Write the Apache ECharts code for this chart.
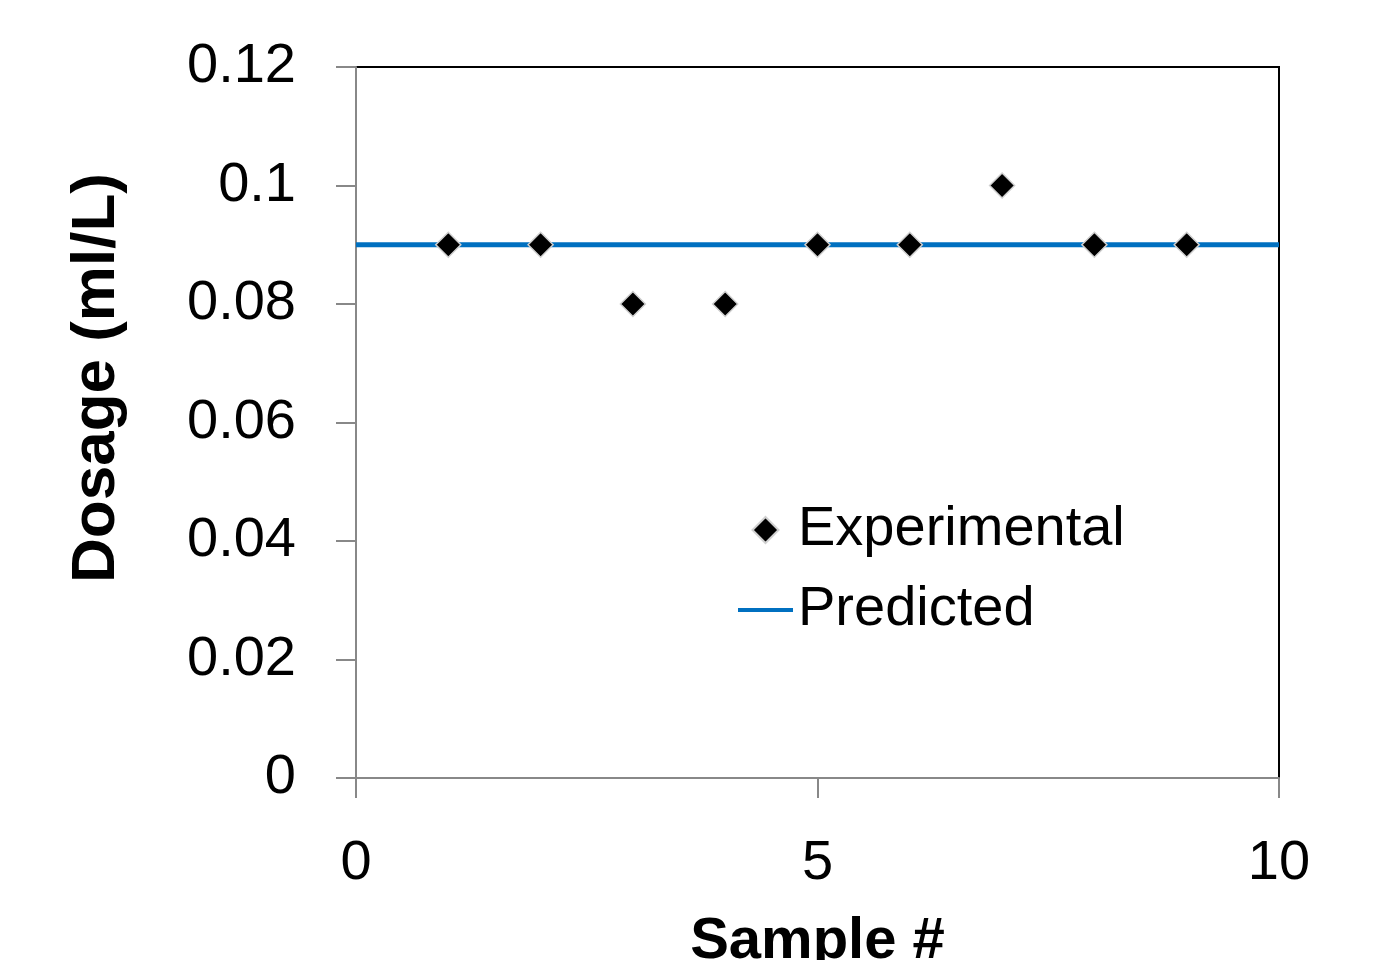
<!DOCTYPE html>
<html>
<head>
<meta charset="utf-8">
<script src="https://cdn.jsdelivr.net/npm/echarts@6/dist/echarts.min.js"></script>
<style>
html, body { margin: 0; padding: 0; background: #fff; }
#main { width: 1376px; height: 960px; }
</style>
</head>
<body>
<div id="main"></div>
<script>
// data
var sampleNo = [1, 2, 3, 4, 5, 6, 7, 8, 9];
var experimental = [0.09, 0.09, 0.08, 0.08, 0.09, 0.09, 0.1, 0.09, 0.09];
var predictedX = [0, 10];
var predictedY = [0.09, 0.09];

var font = 'Liberation Sans, Arial, sans-serif';
var chart = echarts.init(document.getElementById('main'));

var expData = [];
for (var i = 0; i < sampleNo.length; i++) {
    expData.push([sampleNo[i], experimental[i]]);
}
var predData = [];
for (var j = 0; j < predictedX.length; j++) {
    predData.push([predictedX[j], predictedY[j]]);
}

var option = {
    animation: false,
    backgroundColor: '#fff',
    grid: {
        left: 356,
        right: 97,
        top: 67,
        bottom: 182,
        outerBoundsMode: 'none',
        containLabel: false,
        show: true,
        borderColor: '#000',
        borderWidth: 2
    },
    // y title is placed by hand, it sits above the axis centre in the original
    graphic: [{
        type: 'text',
        x: 97,
        y: 378,
        rotation: Math.PI / 2,
        style: {
            text: 'Dosage (ml/L)',
            fontFamily: font,
            fontSize: 62,
            fontWeight: 'bold',
            fill: '#000',
            align: 'center',
            verticalAlign: 'middle'
        }
    }],
    legend: {
        left: 733,
        top: 495,
        orient: 'vertical',
        itemWidth: 55,
        itemHeight: 26,
        itemGap: 20,
        symbolKeepAspect: true,
        textStyle: { fontFamily: font, fontSize: 56, color: '#000', lineHeight: 60 },
        data: [
            { name: 'Experimental', icon: 'path://M11,0 L22,11 L11,22 L0,11 Z' },
            { name: 'Predicted', icon: 'path://M0,0 H55 V4 H0 Z' }
        ]
    },
    xAxis: {
        type: 'value',
        min: 0,
        max: 10,
        interval: 5,
        name: 'Sample #',
        nameLocation: 'middle',
        nameGap: 135,
        nameTextStyle: { fontFamily: font, fontSize: 58, fontWeight: 'bold', color: '#000' },
        axisLine: { lineStyle: { color: '#888', width: 2 } },
        axisTick: { show: true, length: 20, lineStyle: { color: '#888', width: 2 } },
        axisLabel: { margin: 58, fontFamily: font, fontSize: 56, color: '#000' },
        splitLine: { show: false }
    },
    yAxis: {
        type: 'value',
        min: 0,
        max: 0.12,
        interval: 0.02,
        axisLine: { show: true, lineStyle: { color: '#888', width: 2 } },
        axisTick: { show: true, length: 20, lineStyle: { color: '#888', width: 2 } },
        axisLabel: { margin: 60, fontFamily: font, fontSize: 56, color: '#000' },
        splitLine: { show: false }
    },
    series: [
        {
            name: 'Predicted',
            type: 'line',
            data: predData,
            symbol: 'none',
            lineStyle: { color: '#0070C0', width: 5 },
            itemStyle: { color: '#0070C0' },
            z: 2
        },
        {
            name: 'Experimental',
            type: 'scatter',
            data: expData,
            symbol: 'diamond',
            symbolSize: 25,
            itemStyle: { color: '#000', opacity: 1, borderColor: '#d0d0d0', borderWidth: 1.5 },
            z: 3
        }
    ]
};

chart.setOption(option);
</script>
</body>
</html>
